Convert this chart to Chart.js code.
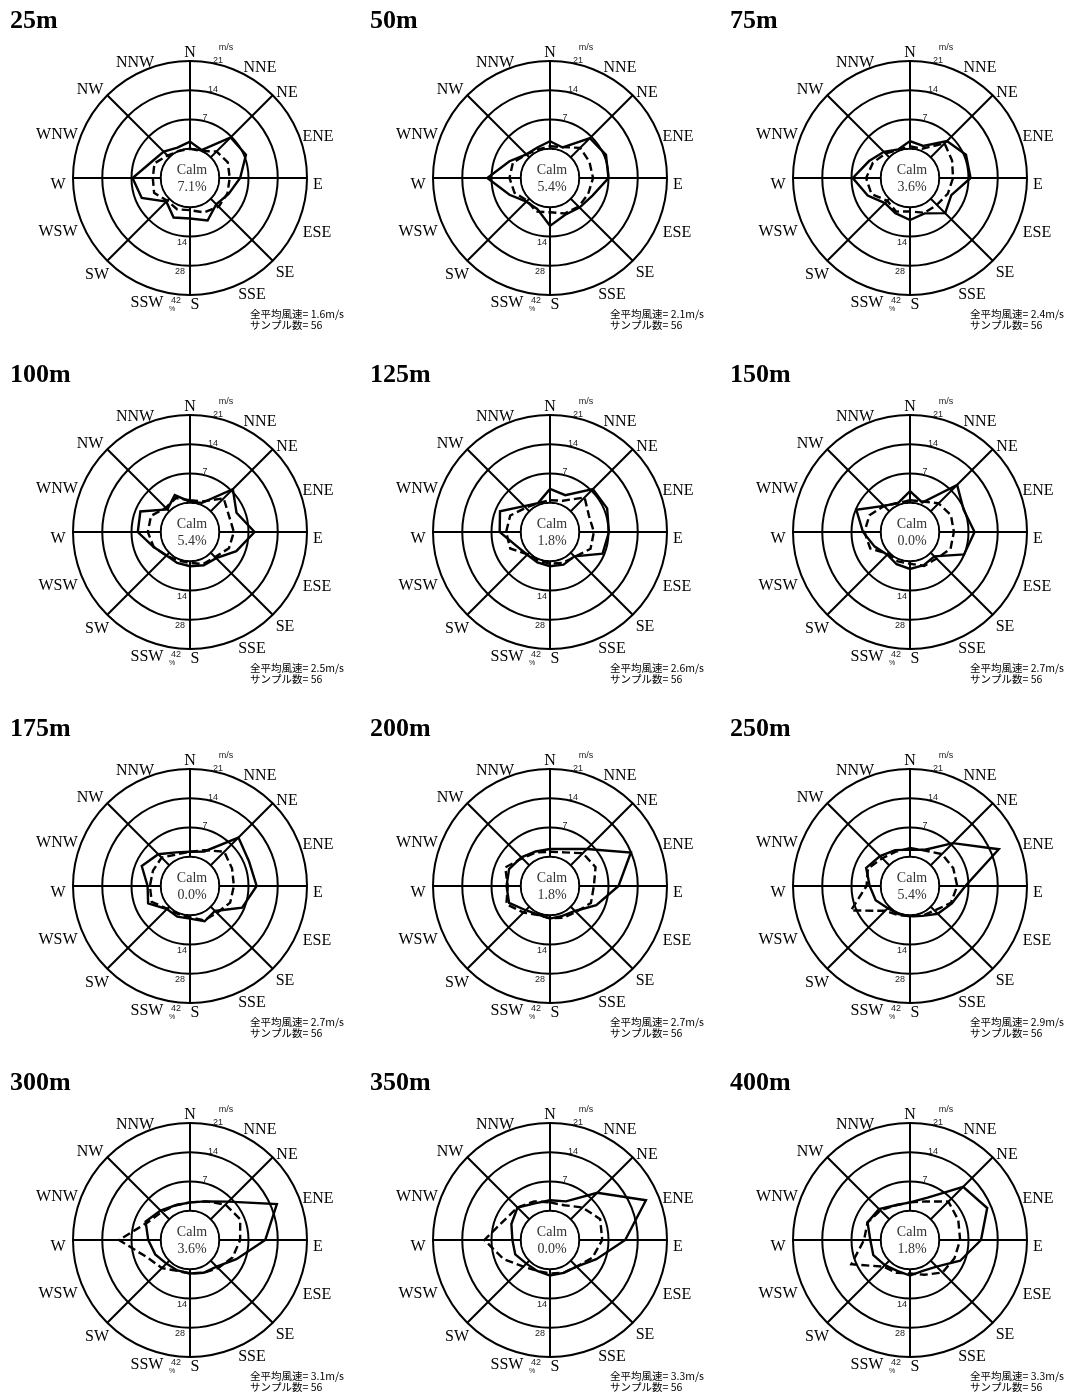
<!DOCTYPE html>
<html><head><meta charset="utf-8">
<script src="https://cdn.jsdelivr.net/npm/chart.js@4.4.1/dist/chart.umd.min.js"></script>
<style>
html,body{margin:0;padding:0;background:#fff;overflow:hidden;}
#wrap{position:relative;width:1073px;height:1399px;overflow:hidden;}
canvas{position:absolute;}
</style></head><body><div id="wrap"></div>
<script>
// ---------- data ----------
const directions = ['N','NNE','NE','ENE','E','ESE','SE','SSE','S','SSW','SW','WSW','W','WNW','NW','NNW'];
const heights = ['25m','50m','75m','100m','125m','150m','175m','200m','250m','300m','350m','400m'];
const calmPct = [7.1, 5.4, 3.6, 5.4, 1.8, 0.0, 0.0, 1.8, 5.4, 3.6, 0.0, 1.8];
const meanSpeed = [1.6, 2.1, 2.4, 2.5, 2.6, 2.7, 2.7, 2.7, 2.9, 3.1, 3.3, 3.3];
const sampleCount = [56, 56, 56, 56, 56, 56, 56, 56, 56, 56, 56, 56];
const speedTicks = ['7', '14', '21'];
const freqTicks = ['14', '28', '42'];

// frequency (%) by direction — solid line
const freq25  = [3.4, 0.5, 13.5, 15.0, 10.0, 6.0, 3.8, 8.0, 5.4, 6.5, 2.0, 11.0, 13.5, 6.0, 3.8, 1.7];
const freq50  = [3.6, 1.8, 13.0, 15.0, 14.0, 8.0, 6.0, 5.0, 8.9, 2.0, 2.0, 7.0, 16.0, 7.0, 2.0, 1.8];
const freq75  = [3.7, 2.6, 11.0, 15.0, 15.0, 7.4, 9.8, 4.3, 6.1, 4.2, 3.0, 7.9, 13.4, 7.2, 3.7, 0.8];
const freq100 = [0.5, 1.1, 15.0, 10.1, 16.9, 10.0, 3.7, 3.2, 2.4, 2.0, 1.9, 4.8, 11.0, 11.7, 1.3, 5.1];
const freq125 = [6.6, 5.1, 15.0, 15.6, 14.2, 13.2, 2.5, 2.9, 2.4, 1.8, 1.4, 3.4, 10.1, 11.9, 3.5, 1.0];
const freq150 = [5.6, 1.3, 17.9, 13.8, 16.9, 14.0, 2.5, 3.2, 3.7, 2.7, 1.4, 4.3, 8.5, 13.8, 3.7, 1.0];
const freq175 = [2.4, 3.9, 18.8, 16.6, 17.9, 13.0, 2.9, 4.3, 1.6, 1.9, 1.6, 7.7, 6.3, 11.0, 7.5, 3.4];
const freq200 = [3.7, 5.2, 11.0, 27.9, 18.8, 10.0, 2.9, 1.5, 1.6, 0.8, 2.4, 7.2, 6.8, 7.2, 5.4, 3.9];
const freq250 = [3.4, 4.8, 15.0, 32.0, 12.5, 7.7, 4.8, 1.5, 0.5, 0.5, 1.0, 3.8, 5.3, 8.7, 6.3, 4.6];
const freq300 = [4.0, 6.0, 12.0, 31.0, 22.0, 10.0, 4.0, 3.0, 2.0, 1.8, 2.0, 4.0, 6.0, 9.0, 6.0, 4.0];
const freq350 = [5.0, 6.0, 18.0, 35.7, 22.0, 10.0, 4.0, 3.0, 3.0, 2.0, 2.0, 4.0, 4.0, 6.0, 8.0, 5.0];
const freq400 = [4.0, 8.0, 22.0, 26.0, 20.0, 12.0, 4.0, 2.0, 3.0, 2.0, 3.0, 5.0, 5.0, 8.0, 7.0, 4.0];

// mean wind speed (m/s) by direction — dashed line
const spd25  = [0.0, 0.0, 2.0, 2.8, 2.5, 2.7, 2.7, 1.9, 0.7, 1.1, 0.7, 2.3, 1.9, 2.2, 0.6, 0.0];
const spd50  = [0.6, 1.0, 3.2, 3.2, 3.3, 2.9, 2.7, 2.2, 1.2, 1.7, 0.7, 2.2, 2.7, 2.6, 1.0, 0.4];
const spd75  = [0.6, 0.6, 4.7, 3.9, 3.3, 2.8, 2.1, 2.0, 1.0, 1.7, 0.7, 3.0, 3.5, 2.6, 1.3, 0.3];
const spd100 = [0.6, 0.9, 4.4, 3.1, 3.5, 3.1, 1.5, 1.3, 0.4, 0.4, 1.0, 2.4, 3.1, 3.1, 1.2, 1.8];
const spd125 = [0.6, 1.1, 4.7, 3.1, 3.5, 3.5, 1.4, 1.0, 0.6, 0.4, 0.6, 3.3, 3.5, 3.3, 1.2, 0.5];
const spd150 = [0.6, 0.9, 2.7, 3.6, 3.5, 3.5, 2.0, 1.8, 0.6, 0.6, 0.4, 3.3, 3.9, 3.5, 1.8, 0.5];
const spd175 = [1.2, 2.3, 4.6, 3.9, 3.5, 3.4, 2.1, 1.9, 0.5, 0.3, 0.7, 2.9, 2.6, 2.6, 2.6, 1.2];
const spd200 = [1.2, 1.7, 4.1, 4.8, 3.5, 3.6, 1.8, 1.2, 0.7, 0.5, 2.0, 4.3, 3.1, 4.6, 2.4, 1.7];
const spd250 = [2.1, 2.2, 3.8, 4.2, 4.3, 3.6, 1.3, 0.7, 0.2, 0.5, 1.4, 8.3, 3.4, 3.9, 2.4, 1.9];
const spd300 = [2.0, 3.0, 5.0, 6.0, 5.0, 4.0, 2.5, 1.5, 1.0, 1.0, 2.5, 4.0, 10.0, 4.0, 2.5, 2.0];
const spd350 = [2.0, 2.0, 4.0, 6.0, 5.5, 4.0, 2.0, 1.5, 1.0, 1.0, 2.0, 5.0, 8.7, 5.0, 4.0, 3.0];
const spd400 = [2.0, 3.0, 6.0, 5.5, 5.0, 4.5, 4.0, 2.0, 1.0, 1.5, 2.0, 8.2, 4.0, 4.0, 3.0, 2.0];

const freqSeries = [freq25, freq50, freq75, freq100, freq125, freq150, freq175, freq200, freq250, freq300, freq350, freq400];
const speedSeries = [spd25, spd50, spd75, spd100, spd125, spd150, spd175, spd200, spd250, spd300, spd350, spd400];

// ---------- layout ----------
const PANEL_W = 360, PANEL_H = 354;
const CX = 190, CY = 178, R = 117;
const SERIF = '"Liberation Serif", "Times New Roman", serif';
const SANS = '"Liberation Sans", Arial, sans-serif';
const CJK = '"Noto Sans CJK JP", "Noto Sans", sans-serif';
// label centres relative to rose centre, at outer radius R
const labelPos = [[0,-125],[70,-110],[97,-85],[128,-41],[128,7],[127,55],[95,95],[62,117],
                  [5,127],[-43,125],[-93,97],[-132,54],[-132,7],[-133,-43],[-100,-88],[-55,-115]];

const decor = {
  id: 'decor',
  beforeDatasetsDraw(chart) {
    const s = chart.scales.r, ctx = chart.ctx;
    const r0 = s.getDistanceFromCenterForValue(0);
    ctx.save();
    ctx.fillStyle = '#fff';
    ctx.beginPath(); ctx.arc(s.xCenter, s.yCenter, r0 - 1, 0, Math.PI * 2); ctx.fill();
    ctx.restore();
  },
  afterDraw(chart) {
    const s = chart.scales.r, ctx = chart.ctx, p = chart.options.plugins.decor;
    const x0 = s.xCenter, y0 = s.yCenter, k = s.drawingArea / R;
    ctx.save();
    ctx.fillStyle = '#000';
    ctx.textBaseline = 'middle';
    // title
    ctx.textAlign = 'left';
    ctx.font = 'bold 26px ' + SERIF;
    ctx.fillText(p.title, x0 - 180, y0 - 157);
    // direction labels
    ctx.textAlign = 'center';
    ctx.font = '16px ' + SERIF;
    directions.forEach((d, i) => {
      ctx.fillText(d, x0 + labelPos[i][0] * k, y0 + labelPos[i][1] * k);
    });
    // calm
    ctx.font = '14px ' + SERIF;
    ctx.fillStyle = '#333';
    ctx.fillText('Calm', x0 + 2, y0 - 8);
    ctx.fillText(p.calm.toFixed(1) + '%', x0 + 2, y0 + 9);
    // speed ticks (top) and frequency ticks (bottom)
    ctx.font = '9px ' + SANS;
    ctx.fillStyle = '#222';
    [7, 14, 21].forEach((v, i) => {
      const r = s.getDistanceFromCenterForValue(v);
      const dx = [15, 23, 28][i];
      const ry = Math.sqrt(r * r - dx * dx);
      ctx.textAlign = 'center';
      ctx.fillText(speedTicks[i], x0 + dx, y0 - ry - 4);
      ctx.textAlign = 'right';
      ctx.fillText(freqTicks[i], x0 - [3, 5, 9][i], y0 + r + 6);
    });
    ctx.textAlign = 'center';
    ctx.fillText('m/s', x0 + 36, y0 - 130);
    ctx.font = '7px ' + SANS;
    ctx.fillText('%', x0 - 18, y0 + 131);
    // footnote
    ctx.font = '10.5px ' + CJK;
    ctx.fillStyle = '#000';
    ctx.textAlign = 'left';
    ctx.fillText('全平均風速= ' + p.mean.toFixed(1) + 'm/s', x0 + 60, y0 + 136);
    ctx.fillText('サンプル数= ' + p.n, x0 + 60, y0 + 147);
    ctx.restore();
  }
};

const wrap = document.getElementById('wrap');
heights.forEach((h, idx) => {
  const col = idx % 3, row = Math.floor(idx / 3);
  const cv = document.createElement('canvas');
  cv.width = PANEL_W; cv.height = PANEL_H;
  cv.style.left = (col * PANEL_W) + 'px';
  cv.style.top = (row * PANEL_H) + 'px';
  wrap.appendChild(cv);
  new Chart(cv, {
    type: 'radar',
    data: {
      labels: directions,
      datasets: [
        { data: freqSeries[idx].map(f => f / 2), borderColor: '#000', borderWidth: 2.4, fill: false, pointRadius: 0, tension: 0 },
        { data: speedSeries[idx], borderColor: '#000', borderWidth: 2.4, borderDash: [8, 4], fill: false, pointRadius: 0, tension: 0 }
      ]
    },
    options: {
      responsive: false, animation: false, devicePixelRatio: 1,
      layout: { padding: { left: CX - R, top: CY - R, right: PANEL_W - CX - R, bottom: PANEL_H - CY - R } },
      plugins: {
        legend: { display: false }, tooltip: { enabled: false },
        decor: { title: h, calm: calmPct[idx], mean: meanSpeed[idx], n: sampleCount[idx] }
      },
      scales: {
        r: {
          min: -7, max: 21,
          ticks: { stepSize: 7, display: false },
          grid: { circular: true, lineWidth: 2, color: c => c.index === 0 ? 'rgba(0,0,0,0)' : '#000' },
          angleLines: { color: '#000', lineWidth: c => (c.index % 2 === 0 ? 2 : 0) },
          pointLabels: { display: false }
        }
      }
    },
    plugins: [decor]
  });
});
</script>
</body></html>
